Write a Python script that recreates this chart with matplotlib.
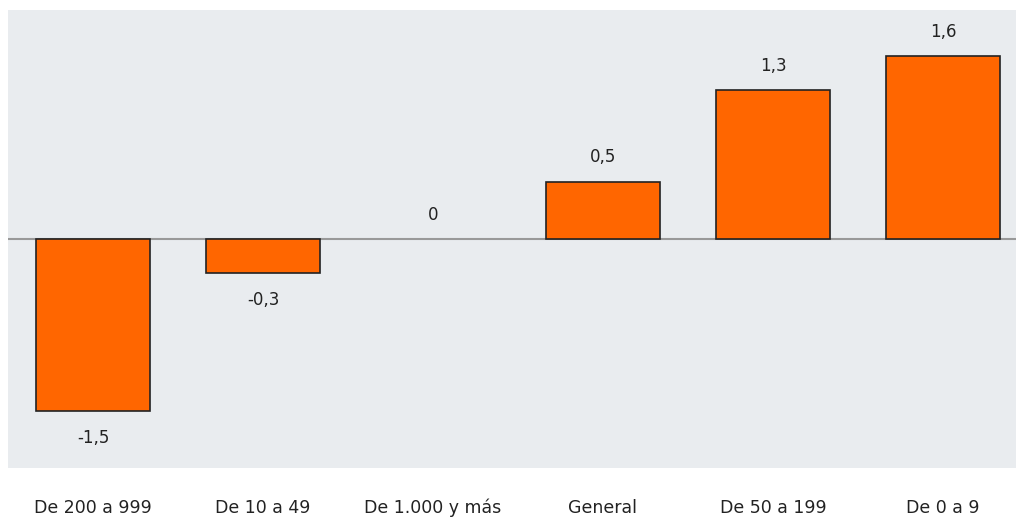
import matplotlib.pyplot as plt

categorias = ["De 200 a 999", "De 10 a 49", "De 1.000 y más", "General", "De 50 a 199", "De 0 a 9"]
valores = [-1.5, -0.3, 0.0, 0.5, 1.3, 1.6]
etiquetas = ["-1,5", "-0,3", "0", "0,5", "1,3", "1,6"]

fig = plt.figure(figsize=(10.16, 5.19), dpi=100)
ax = fig.add_axes([8 / 1016, 51 / 519, 1 - 8 / 1016, 458 / 519])
ax.set_facecolor("#E9ECEF")

x = list(range(len(categorias)))
bordes = [1.2 if v != 0 else 0 for v in valores]
ax.bar(x, valores, width=0.67, color="#FF6600", edgecolor="#222222", linewidth=bordes, zorder=3)
ax.axhline(0, color="#999999", linewidth=1.5, zorder=2)

for xi, v, t in zip(x, valores, etiquetas):
    if v >= 0:
        ax.annotate(t, (xi, v), xytext=(0, 11), textcoords="offset points",
                    ha="center", va="bottom", fontsize=12, color="#222222")
    else:
        ax.annotate(t, (xi, v), xytext=(0, -13), textcoords="offset points",
                    ha="center", va="top", fontsize=12, color="#222222")

ax.set_xlim(-0.5, (1016 - 8) / 170 - 0.5)
ax.set_ylim(-2, 2)
ax.set_xticks(x)
ax.set_xticklabels(categorias, fontsize=12.5, color="#222222")
ax.tick_params(axis="x", length=0, pad=22)
ax.set_yticks([])
for s in ax.spines.values():
    s.set_visible(False)

fig.savefig("out.png", dpi=100)
